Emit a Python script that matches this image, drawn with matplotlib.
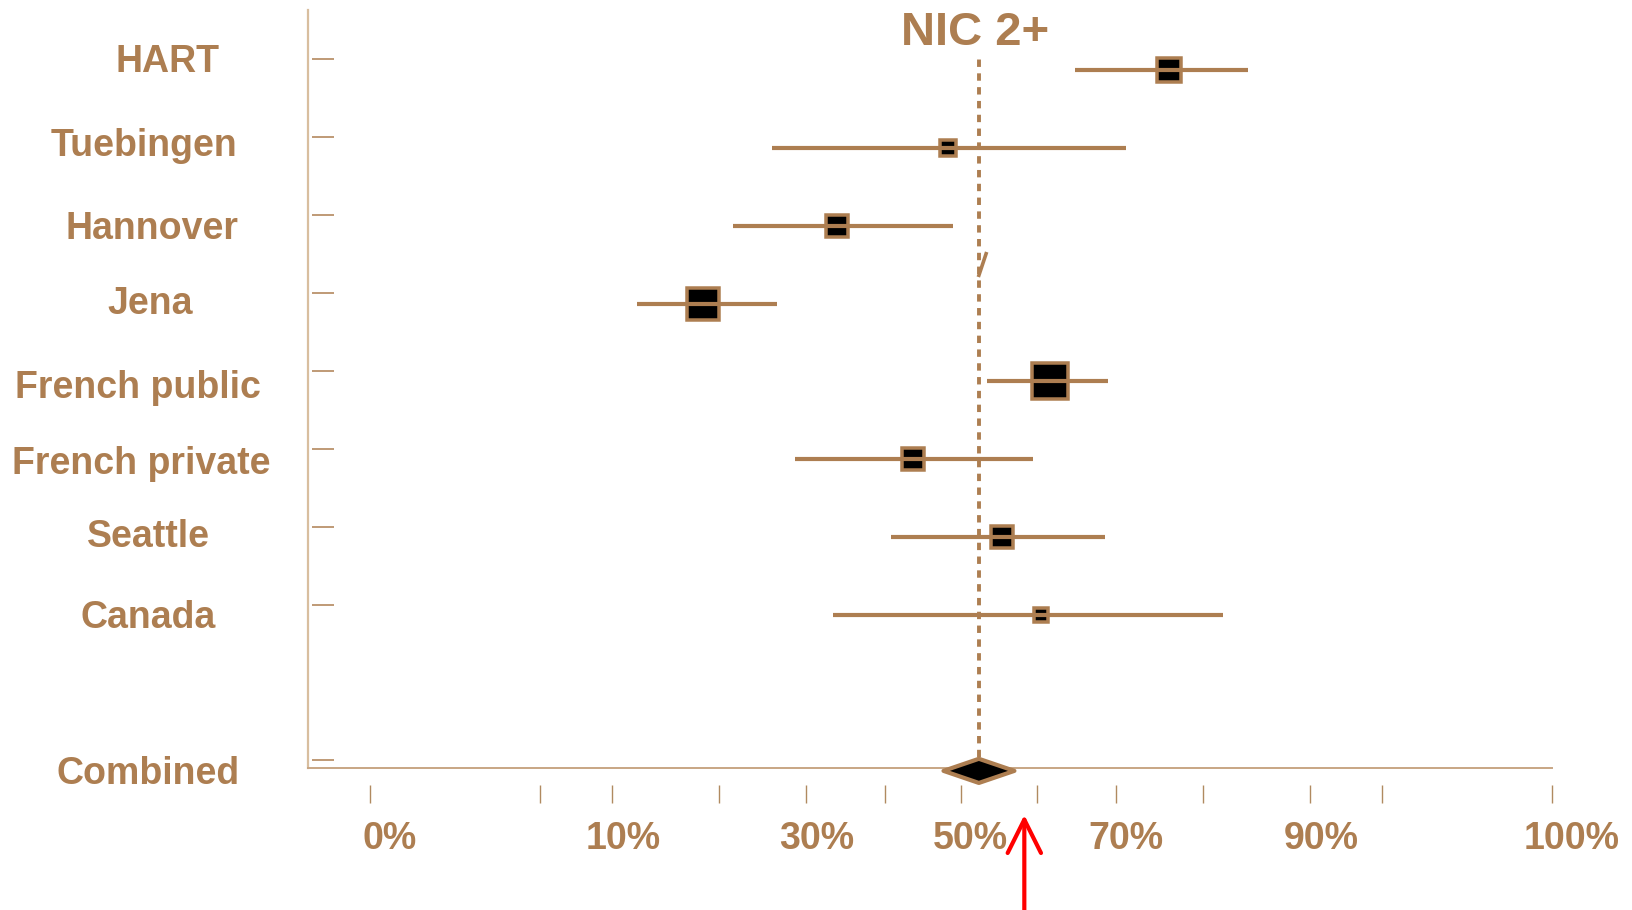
import numpy as np
import matplotlib
matplotlib.use('Agg')
import matplotlib.pyplot as plt
from matplotlib.patches import Polygon
from matplotlib.transforms import ScaledTranslation, blended_transform_factory

# study rows, top to bottom
studies = ["HART", "Tuebingen", "Hannover", "Jena", "French public",
           "French private", "Seattle", "Canada"]
estimate = [76.3, 48.3, 33.9, 18.4, 61.7, 43.6, 55.5, 60.6]   # %
ci_low = [64.9, 25.9, 21.5, 12.1, 53.5, 28.7, 40.8, 33.4]
ci_high = [84.6, 71.3, 48.9, 26.5, 69.1, 59.6, 68.7, 82.1]
box_px = [27, 19, 25, 35, 39, 25, 25, 17]                      # study weight (box size)

combined_label = "Combined"
combined = 52.4
combined_low = 47.7
combined_high = 57.1

tick_pos = [0, 5, 10, 20, 30, 40, 50, 60, 70, 80, 90, 95, 100]
tick_text = ["0%", "", "10%", "", "30%", "", "50%", "", "70%", "", "90%", "", "100%"]

title = "NIC 2+"
arrow_at = 58.4

BROWN = "#AD7E51"
LIGHT = "#D8BE9F"
FONT = "Liberation Sans"


def fwd(p):
    # arcsine square-root scale, extended oddly below 0
    p = np.asarray(p, dtype=float) / 100.0
    return np.sign(p) * np.arcsin(np.sqrt(np.clip(np.abs(p), 0, 1)))


def inv(t):
    t = np.asarray(t, dtype=float)
    return np.sign(t) * np.sin(np.clip(np.abs(t), 0, np.pi / 2)) ** 2 * 100.0


W, H, DPI = 1633, 910, 100
fig = plt.figure(figsize=(W / DPI, H / DPI), dpi=DPI)
ax = fig.add_axes([308.3 / W, 142.4 / H, 1243.5 / W, 757.2 / H])
ax.set_xscale('function', functions=(fwd, inv))
ax.set_xlim(-0.667, 100)
ax.set_ylim(-0.958, 8.763)

n = len(studies)
rows = np.arange(n, 0, -1)          # 8 .. 1
combined_row = -1

# reference line at pooled estimate
ax.vlines(combined, combined_row, 8.19, colors=BROWN, linewidth=2.8,
          linestyles=(0, (1.9, 1.65)), zorder=2)

# boxes and CI lines
for i in range(n):
    ms = (box_px[i] - 3.5) * 72 / DPI
    ax.plot(estimate[i], rows[i], marker='s', markersize=ms,
            markerfacecolor='black', markeredgecolor=BROWN,
            markeredgewidth=3.5 * 72 / DPI, linestyle='none', zorder=3)
    ax.plot([ci_low[i], ci_high[i]], [rows[i], rows[i]], color=BROWN,
            linewidth=3.0, solid_capstyle='butt', zorder=4)

# pooled diamond
h = 0.155
diamond = Polygon([(combined_low, combined_row), (combined, combined_row + h),
                   (combined_high, combined_row), (combined, combined_row - h)],
                  closed=True, facecolor='black', edgecolor=BROWN,
                  linewidth=3.0, joinstyle='round', clip_on=False, zorder=6)
ax.add_patch(diamond)

# stray slash mark on the reference line
ax.plot(combined, 5.51, marker=[(-1, -3), (1, 3)], markersize=18,
        markeredgewidth=2.6, markeredgecolor=BROWN, linestyle='none',
        zorder=3, transform=ax.transData + ScaledTranslation(3 / DPI, 0, fig.dpi_scale_trans))

# spines
for s in ['top', 'right']:
    ax.spines[s].set_visible(False)
ax.spines['left'].set_visible(False)
ax.spines['left'].set_position(('outward', -3))
ax.plot([0, 0], [0, 1], transform=ax.transAxes, color=LIGHT,
        linewidth=1.6, clip_on=False, zorder=5)
ax.spines['bottom'].set_visible(False)
ax.spines['bottom'].set_position(('outward', 12.5))
ax.plot([0, 1], [0, 0], transform=ax.transAxes, color="#C8A684",
        linewidth=1.4, clip_on=False, zorder=5)

# x ticks
ax.set_xticks(tick_pos)
ax.set_xticklabels(tick_text)
ax.xaxis.set_minor_locator(matplotlib.ticker.NullLocator())
ax.tick_params(axis='x', direction='out', length=13, width=1.0,
               color="#B08A60", pad=13)
shifts = [19.5, 11, 11, 10, 10.5, 11.5, 20]
k = 0
for lbl in ax.get_xticklabels():
    lbl.set_fontsize(27)
    lbl.set_fontweight('bold')
    lbl.set_color(BROWN)
    lbl.set_family(FONT)
    if lbl.get_text():
        lbl.set_transform(lbl.get_transform() +
                          ScaledTranslation(shifts[k] / DPI, 0, fig.dpi_scale_trans))
        k += 1

# y ticks (short inward marks) and row labels
ax.set_yticks(list(rows + 0.134) + [combined_row + 0.134])
ax.set_yticklabels([])
ax.yaxis.set_minor_locator(matplotlib.ticker.NullLocator())
ax.tick_params(axis='y', direction='in', length=16, width=1.1, color=BROWN)

label_x = [167, 143.7, 152, 150.3, 137.5, 141, 148.3, 148, 147.7]
label_dy = [-0.03, -0.11, -0.17, -0.14, -0.21, -0.19, -0.13, -0.165, -0.17]
tr = blended_transform_factory(fig.transFigure, ax.transData)
for name, y, lx, dy in zip(studies + [combined_label], list(rows) + [combined_row],
                           label_x, label_dy):
    ax.text(lx / W, y + dy, name, transform=tr, ha='center', va='baseline',
            fontsize=27, fontweight='bold', color=BROWN, family=FONT,
            clip_on=False)

# title
fig.text(975 / W, (H - 45) / H, title, ha='center', va='baseline',
         fontsize=34, fontweight='bold', color=BROWN, family=FONT)

# red arrow
ax.annotate('', xy=(arrow_at, H - 815), xycoords=('data', 'figure pixels'),
            xytext=(arrow_at, -10), textcoords=('data', 'figure pixels'),
            arrowprops=dict(arrowstyle='->,head_length=2.4,head_width=1.2',
                            mutation_scale=10, color='red', lw=3.0,
                            shrinkA=0, shrinkB=0),
            annotation_clip=False)

fig.savefig("out.png", dpi=DPI)
